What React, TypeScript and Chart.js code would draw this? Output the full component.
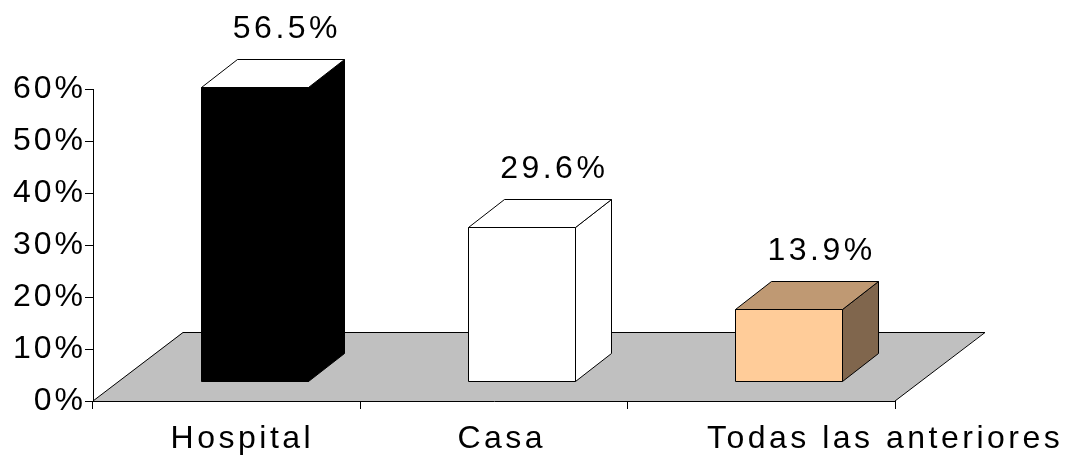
import { useEffect, useRef } from 'react';
import { Chart, registerables } from 'chart.js';

Chart.register(...registerables);

// Categories and their shares (%)
const categories = ['Hospital', 'Casa', 'Todas las anteriores'];
const shares = [56.5, 29.6, 13.9];

// Value axis
const yMin = 0;
const yMax = 60;
const yStep = 10;

// Box face colours: front, top, side
const frontColors = ['#000000', '#ffffff', '#ffcc99'];
const topColors = ['#ffffff', '#ffffff', '#bf9973'];
const sideColors = ['#000000', '#ffffff', '#80664d'];

const FONT = '"Liberation Sans", Arial, Helvetica, sans-serif';
const FONT_SIZE = 32;

// Perspective of the floor and the boxes standing on it
const FLOOR_DX = 90;
const FLOOR_DY = 69;
const BOX_SHIFT_X = 27.5;
const BOX_SHIFT_Y = 20;
const BOX_DX = 36;
const BOX_DY = 28;
// Horizontal nudges of the category captions
const CAPTION_NUDGE = [14, 6, 122];

function spacedWidth(ctx: CanvasRenderingContext2D, text: string, spacing: number) {
  const prev = (ctx as any).letterSpacing;
  (ctx as any).letterSpacing = '0px';
  const w = ctx.measureText(text).width;
  (ctx as any).letterSpacing = prev;
  return w + spacing * (text.length - 1);
}

function drawSpaced(ctx: CanvasRenderingContext2D, text: string, cx: number, baseline: number, spacing: number) {
  const w = spacedWidth(ctx, text, spacing);
  (ctx as any).letterSpacing = spacing + 'px';
  ctx.textAlign = 'left';
  ctx.textBaseline = 'alphabetic';
  ctx.fillText(text, cx - w / 2, baseline);
}

const floorPlugin = {
  id: 'floor3d',
  beforeDraw(chart: any) {
    const ctx: CanvasRenderingContext2D = chart.ctx;
    // slight tracking for the axis labels
    (ctx as any).letterSpacing = '3px';
    const { left, right, bottom } = chart.chartArea;
    ctx.save();
    ctx.beginPath();
    ctx.moveTo(left, bottom);
    ctx.lineTo(left + FLOOR_DX, bottom - FLOOR_DY);
    ctx.lineTo(right + FLOOR_DX, bottom - FLOOR_DY);
    ctx.lineTo(right, bottom);
    ctx.closePath();
    ctx.fillStyle = '#c0c0c0';
    ctx.fill();
    ctx.beginPath();
    ctx.moveTo(left, bottom);
    ctx.lineTo(left + FLOOR_DX, bottom - FLOOR_DY + 0.5);
    ctx.lineTo(right + FLOOR_DX, bottom - FLOOR_DY + 0.5);
    ctx.lineTo(right, bottom);
    ctx.strokeStyle = '#000000';
    ctx.lineWidth = 1;
    ctx.stroke();
    ctx.restore();
  },
};

const boxesPlugin = {
  id: 'boxes3d',
  afterDatasetsDraw(chart: any) {
    const ctx: CanvasRenderingContext2D = chart.ctx;
    const meta = chart.getDatasetMeta(0);
    ctx.save();
    ctx.lineWidth = 1;
    ctx.strokeStyle = '#000000';
    ctx.lineJoin = 'miter';
    meta.data.forEach((el: any, i: number) => {
      const x0 = Math.round(el.x - el.width / 2 + BOX_SHIFT_X) + 0.5;
      const x1 = Math.round(el.x + el.width / 2 + BOX_SHIFT_X) + 0.5;
      const yTop = Math.round(el.y - BOX_SHIFT_Y) + 0.5;
      const yBot = Math.round(el.base - BOX_SHIFT_Y) + 0.5;

      // side face
      ctx.beginPath();
      ctx.moveTo(x1, yTop);
      ctx.lineTo(x1 + BOX_DX, yTop - BOX_DY);
      ctx.lineTo(x1 + BOX_DX, yBot - BOX_DY);
      ctx.lineTo(x1, yBot);
      ctx.closePath();
      ctx.fillStyle = sideColors[i];
      ctx.fill();
      ctx.stroke();

      // top face
      ctx.beginPath();
      ctx.moveTo(x0, yTop);
      ctx.lineTo(x0 + BOX_DX, yTop - BOX_DY);
      ctx.lineTo(x1 + BOX_DX, yTop - BOX_DY);
      ctx.lineTo(x1, yTop);
      ctx.closePath();
      ctx.fillStyle = topColors[i];
      ctx.fill();
      ctx.stroke();

      // front face
      ctx.beginPath();
      ctx.rect(x0, yTop, x1 - x0, yBot - yTop);
      ctx.fillStyle = frontColors[i];
      ctx.fill();
      ctx.stroke();

      // value caption above the box
      ctx.fillStyle = '#000000';
      ctx.font = `${FONT_SIZE}px ${FONT}`;
      drawSpaced(ctx, shares[i].toFixed(1) + '%', el.x + BOX_SHIFT_X + 31, el.y - 69, 3.5);
    });

    // category captions
    const xScale = chart.scales.x;
    ctx.font = `${FONT_SIZE}px ${FONT}`;
    ctx.fillStyle = '#000000';
    categories.forEach((c, i) => {
      drawSpaced(ctx, c, xScale.getPixelForValue(i) + CAPTION_NUDGE[i], 448, 3.5);
    });
    ctx.restore();
    (ctx as any).letterSpacing = '3px';
  },
};

export default function App() {
  const canvasRef = useRef<HTMLCanvasElement>(null);

  useEffect(() => {
    const canvas = canvasRef.current;
    if (!canvas) return;
    const chart = new Chart(canvas, {
      type: 'bar',
      data: {
        labels: categories,
        datasets: [
          {
            data: shares,
            backgroundColor: 'rgba(0,0,0,0)',
            borderWidth: 0,
            barPercentage: 0.4,
            categoryPercentage: 1,
          },
        ],
      },
      options: {
        responsive: false,
        animation: false,
        events: [],
        layout: { padding: { left: 0, right: 187, top: 89, bottom: 0 } },
        plugins: {
          legend: { display: false },
          tooltip: { enabled: false },
          title: { display: false },
        },
        scales: {
          x: {
            offset: true,
            grid: {
              display: true,
              offset: true,
              drawOnChartArea: false,
              drawTicks: true,
              tickLength: 8,
              color: '#000000',
              lineWidth: 1,
            },
            border: { display: true, color: '#000000', width: 1 },
            ticks: { display: false },
            afterFit: (s: any) => {
              s.height = 55;
            },
          },
          y: {
            min: yMin,
            max: yMax,
            grid: {
              display: true,
              drawOnChartArea: false,
              drawTicks: true,
              tickLength: 8,
              color: '#000000',
              lineWidth: 1,
            },
            border: { display: true, color: '#000000', width: 1 },
            ticks: {
              stepSize: yStep,
              padding: -1,
              color: '#000000',
              font: { family: FONT, size: FONT_SIZE },
              callback: (v: any) => v + '%',
            },
            afterFit: (s: any) => {
              s.width = 93;
            },
          },
        },
      },
      plugins: [floorPlugin, boxesPlugin],
    });
    return () => chart.destroy();
  }, []);

  return (
    <div style={{ position: 'absolute', left: 0, top: 0, width: 1082, height: 456, background: '#ffffff' }}>
      <canvas ref={canvasRef} width={1082} height={456} style={{ display: 'block' }} />
    </div>
  );
}
